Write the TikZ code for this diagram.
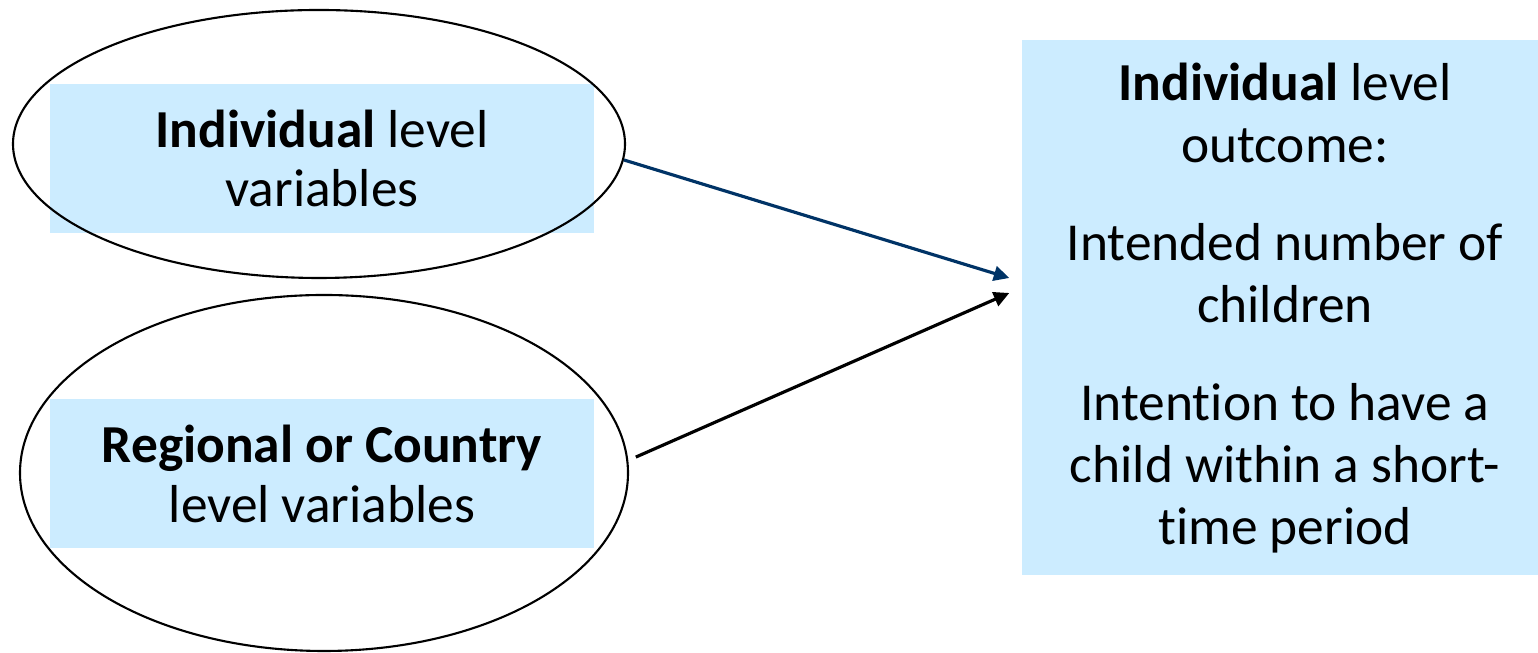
\documentclass[tikz,border=0pt]{standalone}
\usepackage{fontspec}
\setmainfont{Carlito}[Ligatures=NoCommon]
\usepackage{xcolor}
\usetikzlibrary{arrows.meta,positioning,shapes.geometric,calc}

\definecolor{boxblue}{HTML}{CCECFF}
\definecolor{linkblue}{HTML}{003366}

\begin{document}
\begin{tikzpicture}[every node/.style={font=\fontsize{15.2}{17.6}\selectfont},
  varbox/.style={fill=boxblue,minimum width=5.44cm,minimum height=1.49cm,align=center,inner sep=0pt,
    font=\fontsize{15.2}{17}\selectfont},
  ring/.style={draw,ellipse,line width=0.6pt,inner sep=0pt},
  link/.style={line width=0.9pt,-{Triangle[length=4.4pt,width=4.2pt]}}]
  \useasboundingbox (0,0) rectangle (15.38,6.53);

  % predictor boxes, ellipse outline on top
  \node[varbox] (indivbox) at (3.22,4.945) {\textbf{Individual} level\\variables};
  \node[ring,minimum width=6.12cm,minimum height=2.68cm] (indiv) at (3.19,5.09) {};

  \node[varbox] (regionbox) at (3.22,1.79) {\textbf{Regional or Country}\\level variables};
  \node[ring,minimum width=6.08cm,minimum height=3.56cm] (region) at (3.24,1.80) {};

  % outcome
  \node[fill=boxblue,minimum width=5.16cm,minimum height=5.35cm,inner sep=0pt] (outcome) at (12.80,3.455) {};
  \node[align=center] (outtext) at (12.85,3.45)
    {\textbf{Individual} level\\outcome:\\[10.4pt]
     Intended number of\\children\\[10.4pt]
     Intention to have a\\child within a short-\\time period};

  \coordinate (inA) at ([xshift=-0.12cm,yshift=0.295cm]outcome.west);
  \coordinate (inB) at ([xshift=-0.12cm,yshift=0.145cm]outcome.west);

  \draw[link,linkblue] (indiv.-3) -- (inA);
  \draw[link] ([xshift=0.08cm]region.3) -- (inB);
\end{tikzpicture}
\end{document}
